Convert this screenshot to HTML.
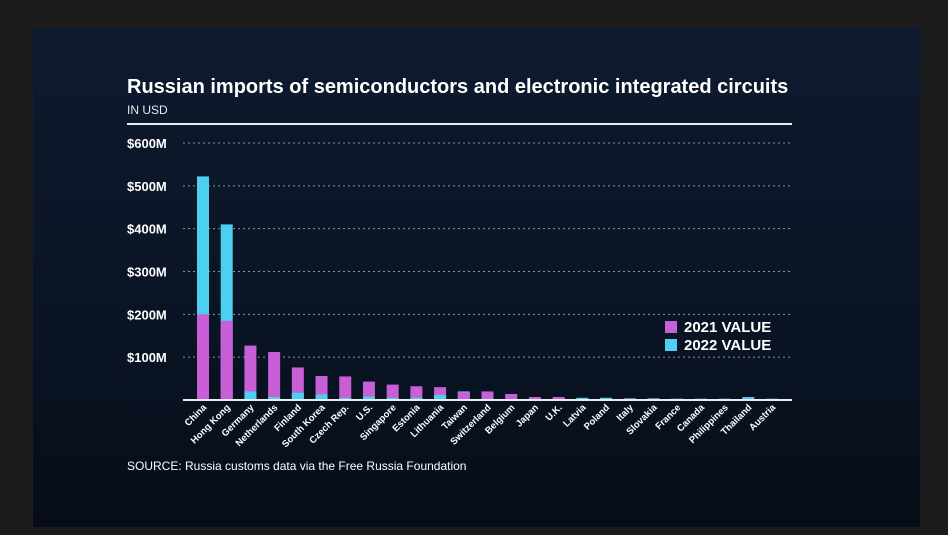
<!DOCTYPE html>
<html><head><meta charset="utf-8"><style>
html,body{margin:0;padding:0;background:#1c1c1c;width:948px;height:535px;overflow:hidden;font-family:"Liberation Sans",sans-serif}
#panel{position:absolute;left:33px;top:28px;width:887px;height:499px;background:linear-gradient(180deg,#0e1a2e 0%,#0a1424 60%,#070d18 100%)}
svg{position:absolute;left:0;top:0}
</style></head><body>
<div id="panel"></div>
<svg id="chart" width="948" height="535">
<text x="127" y="93" fill="#fff" font-size="20" font-weight="bold">Russian imports of semiconductors and electronic integrated circuits</text>
<text x="127" y="114" fill="#e6e9ef" font-size="12">IN USD</text>
<line x1="127" y1="124" x2="792" y2="124" stroke="#e8ecf2" stroke-width="2"/>
<text x="127" y="470" fill="#fff" font-size="12">SOURCE: Russia customs data via the Free Russia Foundation</text>
<g id="grid"></g><g id="bars"></g><g id="xlabels"></g>
<line x1="183" y1="400" x2="792" y2="400" stroke="#e8ecf2" stroke-width="2"/>
<rect x="665" y="321" width="12" height="12" fill="#c85fd6"/>
<text x="684" y="332" fill="#fff" font-size="15" font-weight="bold">2021 VALUE</text>
<rect x="665" y="339" width="12" height="12" fill="#4dd0f0"/>
<text x="684" y="350" fill="#fff" font-size="15" font-weight="bold">2022 VALUE</text>
</svg>
<script>
const categories=["China","Hong Kong","Germany","Netherlands","Finland","South Korea","Czech Rep.","U.S.","Singapore","Estonia","Lithuania","Taiwan","Switzerland","Belgium","Japan","U.K.","Latvia","Poland","Italy","Slovakia","France","Canada","Philippines","Thailand","Austria"];
const values2021=[200,185,127,112,76,56,55,43,36,32,30,18,20,14,7,7,5,5,3,3,2,2,2,3,2];
const values2022=[522,410,20,7,17,13,5,8,5,5,12,20,3,2,2,2,5,5,4,4,3,3,3,7,3];
const yTicks=[100,200,300,400,500,600];
const yTickLabels=["$100M","$200M","$300M","$400M","$500M","$600M"];
const NS="http://www.w3.org/2000/svg";
const y0=400,pxPer=257/600;
function yS(v){return y0-v*pxPer;}
const stepX=(772-203)/(categories.length-1);
function xS(i){return 203+i*stepX;}
function mk(t,a,p){const e=document.createElementNS(NS,t);for(const k in a)e.setAttribute(k,a[k]);p.appendChild(e);return e;}
const grid=document.getElementById('grid');
yTicks.forEach((v,i)=>{
 const l=mk('line',{x1:183,x2:792,y1:yS(v),y2:yS(v),stroke:'#8a93a6','stroke-width':1,'stroke-dasharray':'2,3'},grid);
 
 
 const t=mk('text',{x:127,y:yS(v)+5,fill:'#fff','font-size':13,'font-weight':'bold'},grid);
 t.textContent=yTickLabels[i];
 
 
});
const bars=document.getElementById('bars'),xl=document.getElementById('xlabels');
categories.forEach((c,i)=>{
 const cx=xS(i),w=12;
 const a=values2021[i],b=values2022[i];
 const order=a>=b?[[a,'#c85fd6','2021'],[b,'#4dd0f0','2022']]:[[b,'#4dd0f0','2022'],[a,'#c85fd6','2021']];
 order.forEach(o=>{
  const r=mk('rect',{x:cx-w/2,y:yS(o[0]),width:w,height:o[0]*pxPer,fill:o[1]},bars);
  
  
 });
 const t=mk('text',{x:cx+4,y:408,fill:'#fff','font-size':9.5,'font-weight':'bold','text-anchor':'end',transform:'rotate(-45 '+(cx+4)+' 408)'},xl);
 t.textContent=c;
 
 
});
</script>
</body></html>
